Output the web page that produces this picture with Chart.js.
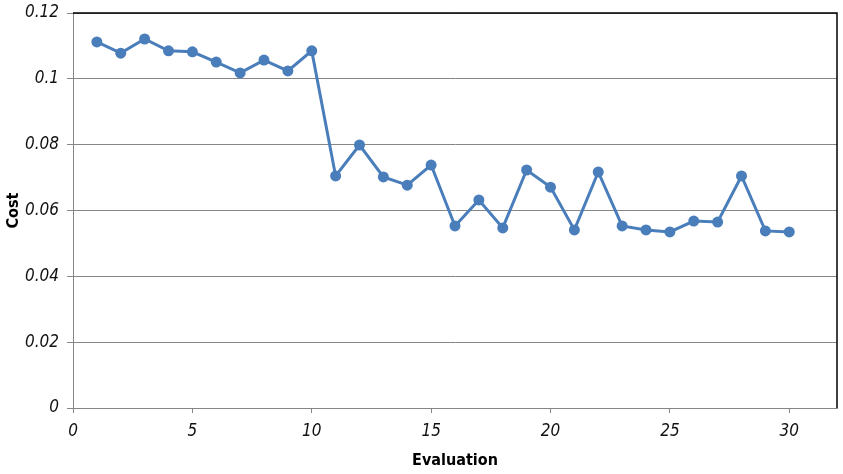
<!DOCTYPE html>
<html>
<head>
<meta charset="utf-8">
<script src="https://cdn.jsdelivr.net/npm/chart.js@4/dist/chart.umd.min.js"></script>
<style>
  html, body { margin: 0; padding: 0; background: #fff; }
  #wrap { width: 843px; height: 474px; }
</style>
</head>
<body>
<div id="wrap"><canvas id="cost-chart" width="843" height="474"></canvas></div>
<script>
// evaluation index and cost
const evaluations = [1, 2, 3, 4, 5, 6, 7, 8, 9, 10, 11, 12, 13, 14, 15,
  16, 17, 18, 19, 20, 21, 22, 23, 24, 25, 26, 27, 28, 29, 30];
const costs = [0.1112, 0.1078, 0.1121, 0.1085, 0.1082, 0.1051, 0.1018, 0.1057, 0.1024, 0.1085,
  0.0705, 0.0799, 0.0702, 0.0677, 0.0738, 0.0553, 0.0632, 0.0547, 0.0723, 0.0671,
  0.0541, 0.0717, 0.0553, 0.0541, 0.0535, 0.0568, 0.0565, 0.0705, 0.0538, 0.0535];
const xTicks = [0, 5, 10, 15, 20, 25, 30];
const yTicks = [0, 0.02, 0.04, 0.06, 0.08, 0.1, 0.12];

const tickFont = { family: "'Liberation Sans Narrow', 'DejaVu Sans Condensed'", size: 17, style: "italic" };
const titleFont = { family: "'DejaVu Sans Condensed'", size: 16, weight: "bold" };

// black frame on top and right like the original plot area
const frame = {
  id: "frame",
  afterDraw(chart) {
    const { ctx, chartArea: a } = chart;
    ctx.save();
    ctx.strokeStyle = "#000";
    ctx.lineWidth = 1.5;
    ctx.beginPath();
    ctx.moveTo(a.left, a.top);
    ctx.lineTo(a.right, a.top);
    ctx.lineTo(a.right, a.bottom);
    ctx.stroke();
    ctx.restore();
  },
};

let ctx = document.getElementById("cost-chart").getContext("2d");
new Chart(ctx, {
  type: "line",
  data: {
    datasets: [{
      data: evaluations.map((e, i) => ({ x: e, y: costs[i] })),
      borderColor: "#4a7ebb",
      backgroundColor: "#4a7ebb",
      borderWidth: 3,
      pointRadius: 5.5,
      pointBorderWidth: 0,
      tension: 0,
    }],
  },
  options: {
    responsive: false,
    animation: false,
    layout: { padding: { top: 13, right: 6, left: 0, bottom: 0 } },
    plugins: { legend: { display: false }, tooltip: { enabled: false } },
    scales: {
      x: {
        type: "linear",
        min: 0,
        max: 32,
        afterBuildTicks: (s) => { s.ticks = xTicks.map((v) => ({ value: v })); },
        afterFit: (s) => { s.height = 66; s.paddingLeft = 0; s.paddingRight = 0; },
        grid: { drawOnChartArea: false, drawTicks: true, tickLength: 5, color: "#868686" },
        border: { color: "#868686" },
        ticks: { font: tickFont, color: "#111", padding: 8, maxRotation: 0 },
        title: { display: true, text: "Evaluation", font: titleFont, color: "#000", padding: { top: 2 } },
      },
      y: {
        min: 0,
        max: 0.12,
        afterBuildTicks: (s) => { s.ticks = yTicks.map((v) => ({ value: v })); },
        afterFit: (s) => { s.width = 73; s.paddingTop = 0; s.paddingBottom = 0; },
        grid: { color: "#868686", tickLength: 6 },
        border: { color: "#868686" },
        ticks: {
          font: tickFont, color: "#111", padding: 8,
          callback: (v) => String(+v.toFixed(2)),
        },
        title: { display: true, text: "Cost", font: titleFont, color: "#000", padding: { bottom: 2 } },
      },
    },
  },
  plugins: [frame],
});
</script>
</body>
</html>
